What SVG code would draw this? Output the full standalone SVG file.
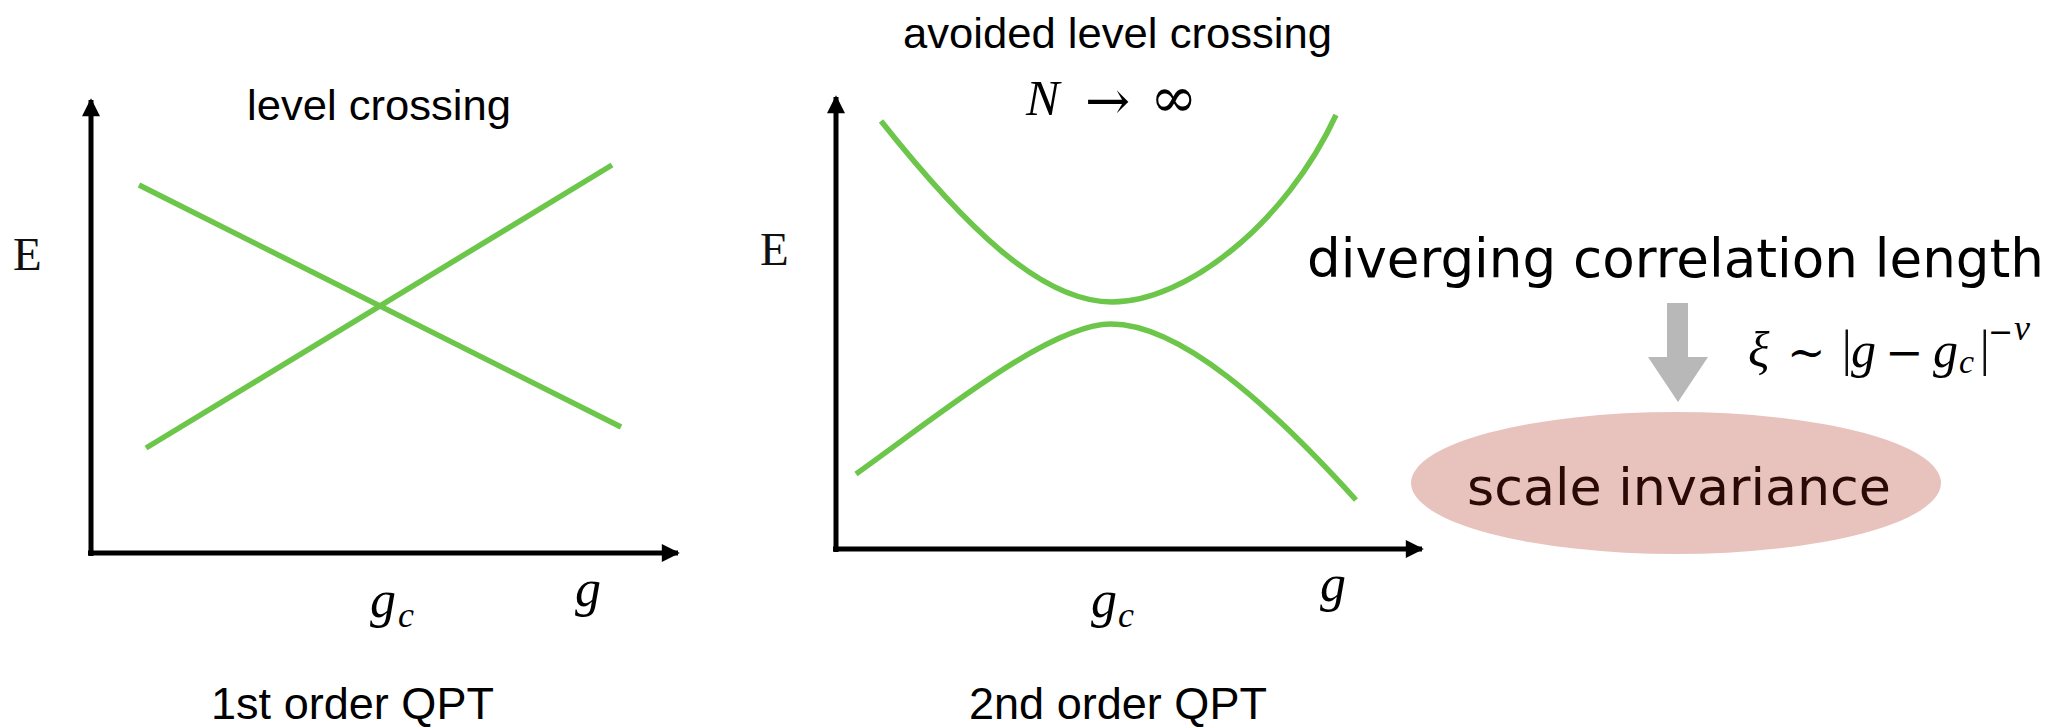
<svg xmlns="http://www.w3.org/2000/svg" width="2051" height="728" viewBox="0 0 2051 728">
<style>
.axis{stroke:#000;stroke-width:5;fill:none}
.lvl{stroke:#6cc649;stroke-width:5.5;fill:none;stroke-linecap:butt}
.hand{font-family:"Liberation Sans",Arial,sans-serif;fill:#000}
.math{font-family:"Liberation Serif","DejaVu Serif",serif;font-style:italic;fill:#000}
.rom{font-family:"Liberation Serif","DejaVu Serif",serif;fill:#111}
.sym{font-family:"DejaVu Serif",serif;font-style:normal;fill:#000}
.sans{font-family:"DejaVu Sans",Verdana,sans-serif}
</style>
<defs>
<marker id="ah" viewBox="0 0 10 10" refX="9" refY="5" markerWidth="4" markerHeight="3.6" orient="auto" markerUnits="strokeWidth">
<path d="M0,0 L10,5 L0,10 z" fill="#000"/>
</marker>
</defs>
<rect width="2051" height="728" fill="#fff"/>

<g id="chart-first-order">
<line class="axis" x1="91" y1="556" x2="91" y2="100" marker-end="url(#ah)"/>
<line class="axis" x1="88" y1="553" x2="678" y2="553" marker-end="url(#ah)"/>
<line class="lvl" x1="139" y1="185" x2="621" y2="427"/>
<line class="lvl" x1="146" y1="448" x2="612" y2="165"/>
<text class="hand" x="247" y="120" font-size="43" textLength="264" lengthAdjust="spacingAndGlyphs">level crossing</text>
<text class="rom" x="13" y="270" font-size="47">E</text>
<text class="math" font-size="52"><tspan x="370" y="617">g</tspan><tspan x="398" y="627" font-size="36">c</tspan></text>
<text class="math" x="575" y="606" font-size="52">g</text>
<text class="hand" x="211" y="719" font-size="45" textLength="283" lengthAdjust="spacingAndGlyphs">1st order QPT</text>
</g>

<g id="chart-second-order">
<line class="axis" x1="836" y1="552" x2="836" y2="97" marker-end="url(#ah)"/>
<line class="axis" x1="833" y1="549" x2="1422" y2="549" marker-end="url(#ah)"/>
<path class="lvl" d="M881,121 C963,224 1040,302 1112,302 C1185,302 1285,225 1336,115"/>
<path class="lvl" d="M856,474 C940,414 1050,324 1111,324 C1180,324 1270,405 1356,500"/>
<text class="hand" x="903" y="48" font-size="43" textLength="429" lengthAdjust="spacingAndGlyphs">avoided level crossing</text>
<text class="math" font-size="50"><tspan x="1026" y="115">N</tspan><tspan class="sym" x="1085" y="119" font-size="54">→</tspan><tspan class="sym" x="1150" y="117" font-size="57">∞</tspan></text>
<text class="rom" x="760" y="265" font-size="47">E</text>
<text class="math" font-size="52"><tspan x="1091" y="617">g</tspan><tspan x="1118" y="627" font-size="36">c</tspan></text>
<text class="math" x="1320" y="601" font-size="52">g</text>
<text class="hand" x="969" y="719" font-size="45" textLength="298" lengthAdjust="spacingAndGlyphs">2nd order QPT</text>
</g>

<g id="node-diverging">
<text class="sans" x="1307" y="277" font-size="53" fill="#000" textLength="737" lengthAdjust="spacingAndGlyphs">diverging correlation length</text>
</g>

<g id="node-scale-invariance">
<ellipse cx="1676" cy="483" rx="265" ry="71" fill="#e8c3be"/>
<text class="sans" x="1467" y="505" font-size="52" fill="#2a0a06" textLength="424" lengthAdjust="spacingAndGlyphs">scale invariance</text>
</g>

<g id="connectors">
<path d="M1667,303 H1688 V357 H1708 L1678,402 L1648,357 H1667 Z" fill="#b8b8b8"/>
</g>

<g id="label-xi">
<text class="math" font-size="50"><tspan x="1748" y="367">ξ</tspan><tspan class="sym" x="1787" y="368" font-size="46">∼</tspan><tspan class="rom" x="1839" y="365" fill="#000">|</tspan><tspan x="1851" y="367">g</tspan><tspan class="sym" x="1885" y="368" font-size="46">−</tspan><tspan x="1933" y="367">g</tspan><tspan x="1959" y="373" font-size="34">c</tspan><tspan class="rom" x="1977" y="365" fill="#000">|</tspan><tspan class="sym" x="1988" y="342" font-size="30">−</tspan><tspan x="2014" y="340" font-size="36">ν</tspan></text>
</g>
</svg>
